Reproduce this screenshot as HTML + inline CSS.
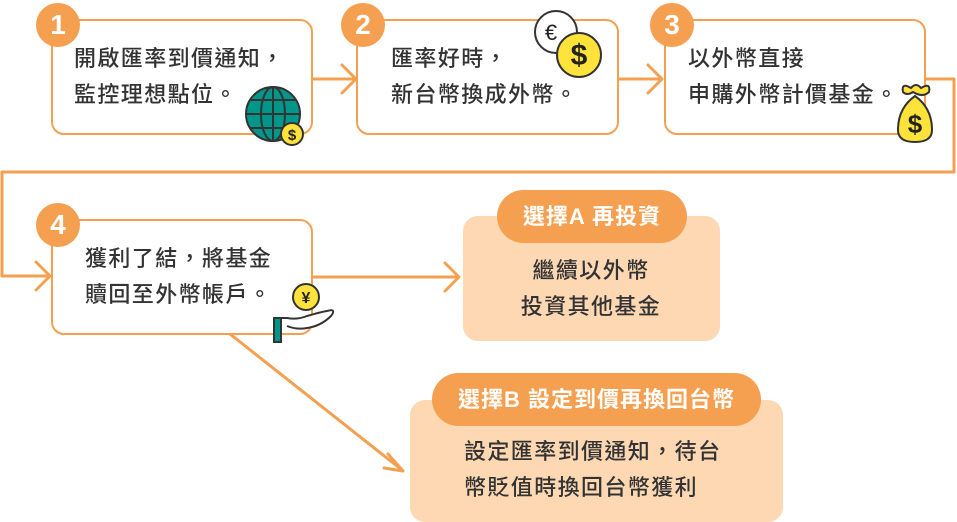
<!DOCTYPE html>
<html><head><meta charset="utf-8"><style>
body{margin:0;width:957px;height:522px;background:#fff;overflow:hidden;position:relative;font-family:"Liberation Sans","Noto Sans CJK TC",sans-serif;}
.box{position:absolute;border:2.5px solid #F5A050;border-radius:13px;background:#fff;box-sizing:border-box;}
.t{position:absolute;font-size:22px;line-height:36px;color:#333;letter-spacing:1.4px;white-space:nowrap;font-weight:500;}
.num{position:absolute;width:44px;height:44px;border-radius:50%;background:#F5A050;color:#fff;font-weight:bold;font-size:28px;text-align:center;line-height:44px;}
.sb{position:absolute;background:#FDD8B2;border-radius:15px;}
.pill{position:absolute;background:#F5A050;border-radius:27px;color:#fff;font-weight:bold;font-size:22px;text-align:center;letter-spacing:1px;}
svg{position:absolute;left:0;top:0}
</style></head><body>
<svg width="957" height="522">
<g fill="none" stroke="#F5A050" stroke-width="3" stroke-linecap="round" stroke-linejoin="round">
<line x1="312" y1="79" x2="354" y2="79"/><polyline points="342,65 356,79 342,93"/>
<line x1="618" y1="79" x2="661" y2="79"/><polyline points="648,65 662,79 648,93"/>
<polyline points="925,79 954,79 954,172 2,172 2,276 49,276" stroke-linecap="butt"/><polyline points="36,262 50,276 36,290"/>
<line x1="312" y1="277" x2="458" y2="277"/><polyline points="445,263 459,277 445,291"/>
<line x1="230" y1="334" x2="402" y2="470"/><polyline points="388,454 403,471 384,468"/>
</g>
</svg>
<div class="box" style="left:51px;top:19px;width:262px;height:116px"></div>
<div class="box" style="left:356px;top:19px;width:263px;height:116px"></div>
<div class="box" style="left:664px;top:19px;width:262px;height:116px"></div>
<div class="box" style="left:51px;top:219px;width:262px;height:116px"></div>
<div class="num" style="left:36px;top:3px">1</div>
<div class="num" style="left:341px;top:3px">2</div>
<div class="num" style="left:650px;top:3px">3</div>
<div class="num" style="left:36px;top:203px">4</div>
<div class="t" style="left:74px;top:41px">開啟匯率到價通知，<br>監控理想點位。</div>
<div class="t" style="left:391px;top:41px">匯率好時，<br>新台幣換成外幣。</div>
<div class="t" style="left:688px;top:41px">以外幣直接<br>申購外幣計價基金。</div>
<div class="t" style="left:85px;top:241px">獲利了結，將基金<br>贖回至外幣帳戶。</div>
<div class="sb" style="left:463px;top:216px;width:257px;height:125px"></div>
<div class="pill" style="left:497px;top:190px;width:190px;height:53px;line-height:53px">選擇A 再投資</div>
<div class="t" style="left:491px;top:253px;width:200px;text-align:center">繼續以外幣<br>投資其他基金</div>
<div class="sb" style="left:410px;top:400px;width:373px;height:122px"></div>
<div class="pill" style="left:432px;top:373px;width:329px;height:53px;line-height:53px">選擇B 設定到價再換回台幣</div>
<div class="t" style="left:464px;top:434px">設定匯率到價通知，待台<br>幣貶值時換回台幣獲利</div>
<svg width="957" height="522" style="pointer-events:none">
<g stroke="#333" stroke-width="2">
<circle cx="273" cy="114" r="27" fill="#00968A"/>
<ellipse cx="273" cy="114" rx="12" ry="27" fill="none"/>
<line x1="273" y1="87" x2="273" y2="141"/><line x1="246" y1="114" x2="300" y2="114"/>
<line x1="250" y1="100" x2="296" y2="100" /><line x1="250" y1="128" x2="296" y2="128"/>
<circle cx="292" cy="134" r="11" fill="#FFE23A"/>
<circle cx="556" cy="32" r="21" fill="#fff"/>
<circle cx="579" cy="55" r="22" fill="#FFE23A"/>
<path d="M903 92 q-2-10 8-4 q5-6 10 0 q10-6 8 4 q-6 6-16 0 q-6 4-10 0z M898 130 q0-22 17-34 q17 12 17 34 q0 12-17 12 q-17 0-17-12z" fill="#FFE23A"/>
<circle cx="306" cy="297" r="13" fill="#FFE23A"/>
<path d="M281 318 h6 q10 2 20 -2 q14 -4 20 -5 q10 -3 4 5 q-10 10 -24 12 q-10 2 -20 -2" fill="#fff"/>
<rect x="274" y="318" width="7" height="24" fill="#00968A"/>
</g>
<g font-family="Liberation Sans,sans-serif" fill="#222" text-anchor="middle" font-weight="bold">
<text x="292" y="140" font-size="15">$</text>
<text x="551" y="40" font-size="22" font-weight="normal">€</text>
<text x="579" y="65" font-size="30">$</text>
<text x="915" y="133" font-size="26">$</text>
<text x="306" y="303" font-size="16">¥</text>
</g>
</svg>
</body></html>
